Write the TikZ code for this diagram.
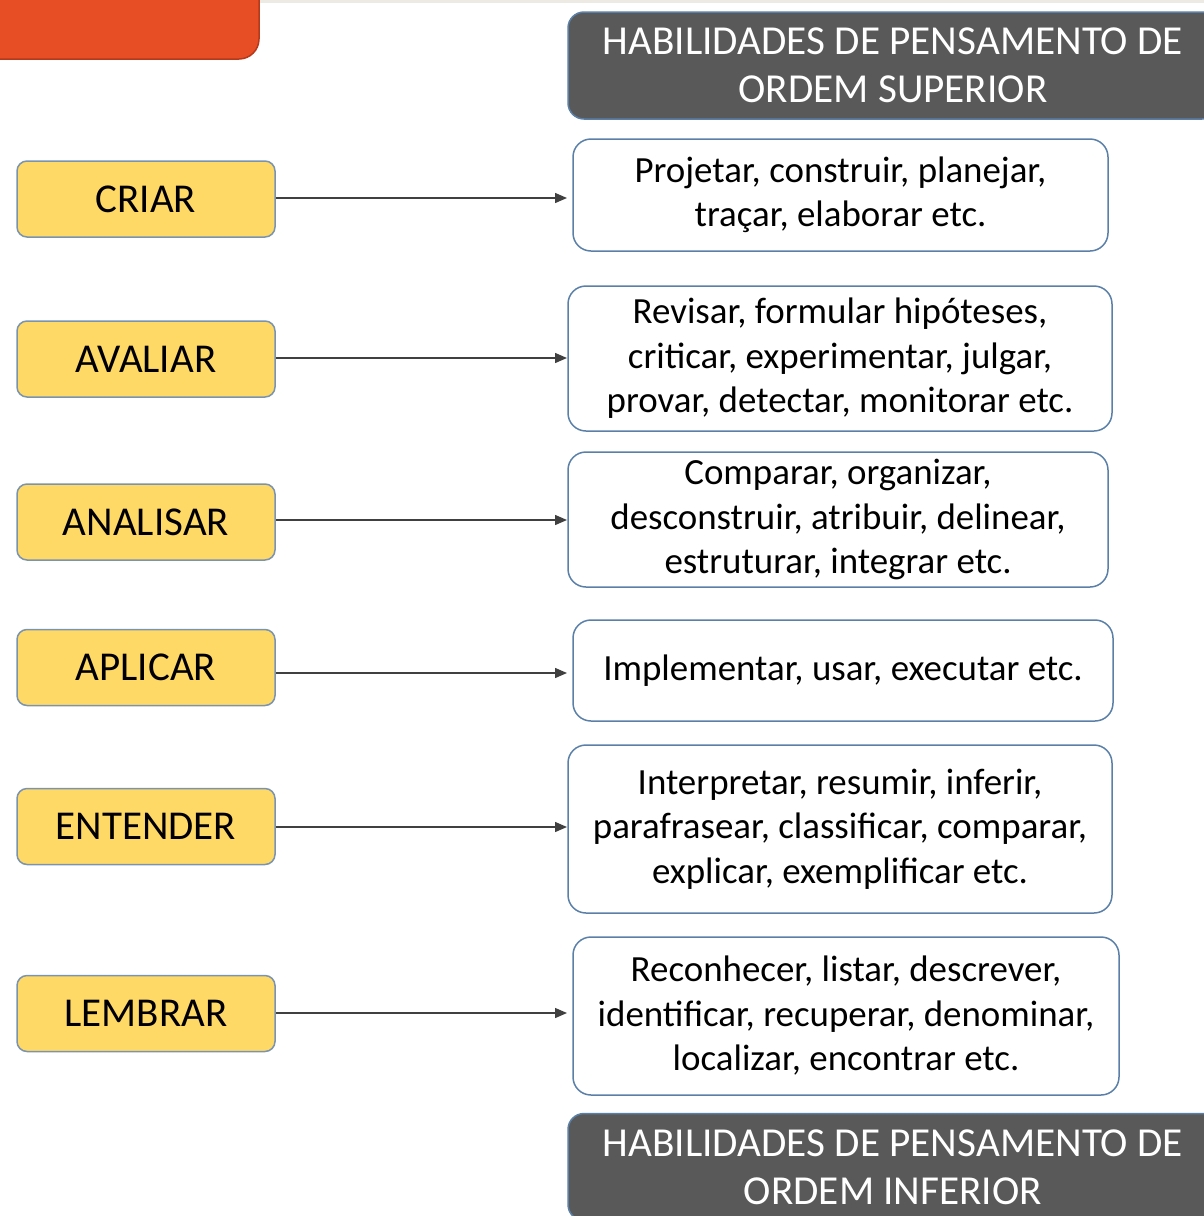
\documentclass[tikz,border=0pt]{standalone}
\usepackage{fontspec}
\setmainfont{Carlito}
\usetikzlibrary{arrows.meta}
\definecolor{yel}{HTML}{FFD966}
\definecolor{lbord}{HTML}{7A93B0}
\definecolor{rbord}{HTML}{5B80A8}
\definecolor{hdrgray}{HTML}{595959}
\definecolor{arrgray}{HTML}{404040}
\definecolor{orng}{HTML}{E84E25}
\definecolor{orngdk}{HTML}{B5391B}
\definecolor{beige}{HTML}{ECEAE2}
\tikzset{
 lbox/.style={draw=lbord, fill=yel, rounded corners=10pt, line width=1.5pt, minimum width=258pt, minimum height=76pt, font=\fontsize{41}{48}\selectfont, inner sep=0pt},
 rbox/.style={draw=rbord, fill=white, rounded corners=18pt, line width=1.5pt, align=center, font=\fontsize{36.9}{44.5}\selectfont, inner sep=0pt},
 hdr/.style={draw=rbord, fill=hdrgray, rounded corners=16pt, line width=1.5pt, text=white, align=center, font=\fontsize{41.2}{48}\selectfont, inner sep=0pt, minimum width=650pt, minimum height=107pt},
 conn/.style={draw=arrgray, line width=1.4pt, -{Triangle[length=12pt,width=10pt]}}
}
\begin{document}
\begin{tikzpicture}[x=1pt,y=-1pt]
\useasboundingbox (0,0) rectangle (1204,1216);
% top decorations
\fill[beige] (260,0) rectangle (1204,3);
\draw[fill=orng, draw=orngdk, line width=1.5pt, rounded corners=20pt] (-30,-30) rectangle (259,59);
% headers
\node[hdr] (hs) at (893,65.5) {HABILIDADES DE PENSAMENTO DE\\ORDEM SUPERIOR};
\node[hdr] (hi) at (893,1167) {HABILIDADES DE PENSAMENTO DE\\ORDEM INFERIOR};
% left boxes
\node[lbox] (l1) at (146,199) {CRIAR};
\node[lbox] (l2) at (146,359) {AVALIAR};
\node[lbox] (l3) at (146,522) {ANALISAR};
\node[lbox] (l4) at (146,667.5) {APLICAR};
\node[lbox] (l5) at (146,826.5) {ENTENDER};
\node[lbox] (l6) at (146,1013.5) {LEMBRAR};
% right boxes
\node[rbox, minimum width=535pt, minimum height=112pt] (r1) at (840.5,195) {Projetar, construir, planejar,\\traçar, elaborar etc.};
\node[rbox, minimum width=544pt, minimum height=145pt] (r2) at (840,358.5) {Revisar, formular hipóteses,\\criticar, experimentar, julgar,\\provar, detectar, monitorar etc.};
\node[rbox, minimum width=540pt, minimum height=135pt] (r3) at (838,519.5) {Comparar, organizar,\\desconstruir, atribuir, delinear,\\estruturar, integrar etc.};
\node[rbox, minimum width=540pt, minimum height=101pt] (r4) at (843,670.5) {Implementar, usar, executar etc.};
\node[rbox, minimum width=544pt, minimum height=168pt] (r5) at (840,829) {Interpretar, resumir, inferir,\\parafrasear, classificar, comparar,\\explicar, exemplificar etc.};
\node[rbox, minimum width=546pt, minimum height=158pt] (r6) at (846,1016) {Reconhecer, listar, descrever,\\identificar, recuperar, denominar,\\localizar, encontrar etc.};
% connectors
\coordinate (e1) at (567,198);
\coordinate (e2) at (567,358);
\coordinate (e3) at (567,520);
\coordinate (e4) at (567,673);
\coordinate (e5) at (567,827);
\coordinate (e6) at (567,1013);
\draw[conn] (l1.east |- e1) -- (e1);
\draw[conn] (l2.east |- e2) -- (e2);
\draw[conn] (l3.east |- e3) -- (e3);
\draw[conn] (l4.east |- e4) -- (e4);
\draw[conn] (l5.east |- e5) -- (e5);
\draw[conn] (l6.east |- e6) -- (e6);
\end{tikzpicture}
\end{document}
